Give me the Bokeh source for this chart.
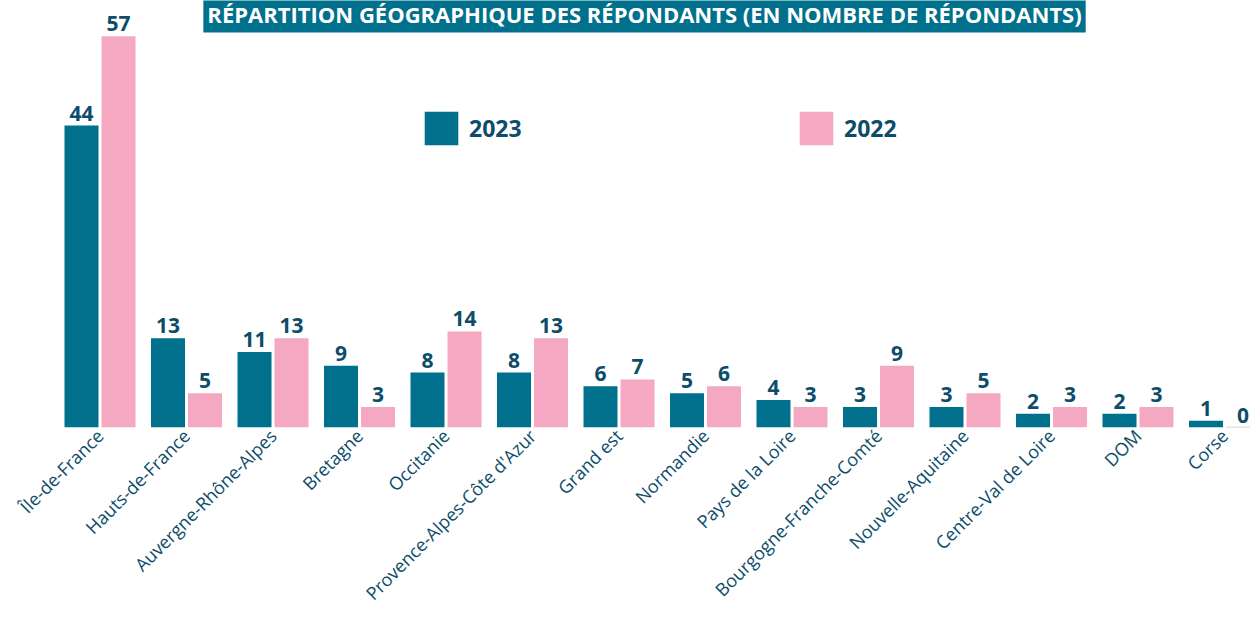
from bokeh.plotting import figure
from bokeh.models import ColumnDataSource, Range1d, Legend, LegendItem, Label, FixedTicker
from bokeh.core.properties import value
from bokeh.embed import file_html
from bokeh.resources import INLINE

# ---- data ----
regions = ["Île-de-France", "Hauts-de-France", "Auvergne-Rhône-Alpes", "Bretagne",
           "Occitanie", "Provence-Alpes-Côte d'Azur", "Grand est", "Normandie",
           "Pays de la Loire", "Bourgogne-Franche-Comté", "Nouvelle-Aquitaine",
           "Centre-Val de Loire", "DOM", "Corse"]
values_2023 = [44, 13, 11, 9, 8, 8, 6, 5, 4, 3, 3, 2, 2, 1]
values_2022 = [57, 5, 13, 3, 14, 13, 7, 6, 3, 9, 5, 3, 3, 0]
series_names = ["2023", "2022"]
title_text = "RÉPARTITION GÉOGRAPHIQUE DES RÉPONDANTS (EN NOMBRE DE RÉPONDANTS)"

# ---- style ----
TEAL = "#00708c"
PINK = "#f5a8c2"
DARK = "#0d4d6a"
FONT = "Open Sans"
OFF = 0.214
BW = 0.393
Y_END = 62.22

idx = list(range(len(regions)))
src23 = ColumnDataSource(dict(x=[i - OFF for i in idx], top=values_2023,
                              label=[str(v) for v in values_2023]))
src22 = ColumnDataSource(dict(x=[i + OFF for i in idx], top=values_2022,
                              label=[str(v) for v in values_2022],
                              edge=[1.0 if v == 0 else 0.0 for v in values_2022]))

p = figure(width=1250, height=616, output_backend="svg", toolbar_location=None,
           x_range=Range1d(-1.1505, 13.3005), y_range=Range1d(0, Y_END),
           min_border_left=0, min_border_right=0, min_border_top=0, min_border_bottom=187)
p.outline_line_color = None
p.xgrid.visible = False
p.ygrid.visible = False
p.yaxis.visible = False

ax = p.xaxis[0]
ax.ticker = FixedTicker(ticks=idx)
ax.major_label_overrides = {i: name for i, name in enumerate(regions)}
ax.major_label_orientation = 0.7853981634
ax.axis_line_color = None
ax.major_tick_line_color = None
ax.minor_tick_line_color = None
ax.major_tick_out = 0
ax.major_tick_in = 0
ax.major_label_standoff = 5
ax.major_label_text_font = FONT
ax.major_label_text_font_size = "18px"
ax.major_label_text_color = DARK

r23 = p.vbar(x="x", top="top", width=BW, source=src23, fill_color=TEAL, line_color=None)
r22 = p.vbar(x="x", top="top", width=BW, source=src22, fill_color=PINK,
             line_color="#c8c8c8", line_alpha="edge", line_width=1.5)

for src in (src23, src22):
    p.text(x="x", y="top", text="label", source=src, text_align="center",
           text_baseline="bottom", y_offset=-5, text_font=value(FONT),
           text_font_style="bold", text_font_size="21px", text_color=DARK)

legend = Legend(items=[LegendItem(label=series_names[0], renderers=[r23]),
                       LegendItem(label=series_names[1], renderers=[r22])],
                orientation="horizontal", location=(420, 278),
                glyph_width=42, glyph_height=42, label_standoff=7, label_width=56,
                spacing=270, padding=0, margin=0, border_line_color=None,
                background_fill_alpha=0, label_text_font=FONT,
                label_text_font_size="23px", label_text_font_style="bold",
                label_text_color=DARK)
p.add_layout(legend, "center")

title = Label(x=6.295, y=Y_END, x_units="data", y_units="data", text=title_text,
              text_align="center", text_baseline="top", text_color="white",
              text_font=FONT, text_font_size="22px", text_font_style="bold",
              background_fill_color=TEAL, padding=4, y_offset=6)
p.add_layout(title)

open("out.html", "w").write(file_html(p, INLINE))
